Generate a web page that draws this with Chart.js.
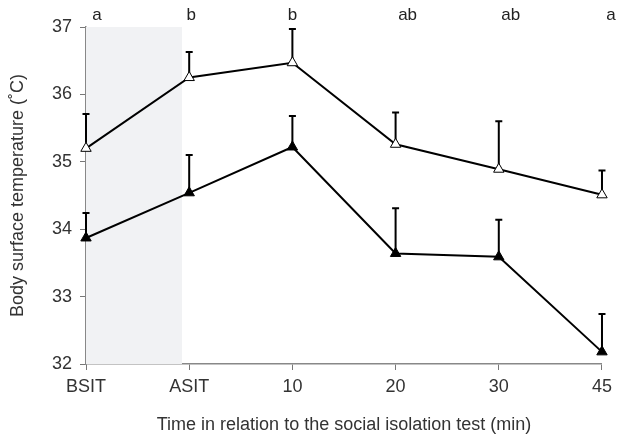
<!DOCTYPE html>
<html>
<head>
<meta charset="utf-8">
<script src="https://cdn.jsdelivr.net/npm/chart.js@4.4.1/dist/chart.umd.min.js"></script>
<style>
html,body{margin:0;padding:0;background:#fff;}
#wrap{width:618px;height:437px;position:relative;}
</style>
</head>
<body>
<div id="wrap"><canvas id="c" width="618" height="437"></canvas></div>
<script>
const categories = ['BSIT', 'ASIT', '10', '20', '30', '45'];
const openMeans  = [35.20, 36.25, 36.47, 35.26, 34.89, 34.51];
const openErrTop = [35.71, 36.63, 36.97, 35.73, 35.60, 34.87];
const filledMeans  = [33.87, 34.54, 35.22, 33.64, 33.59, 32.18];
const filledErrTop = [34.24, 35.10, 35.68, 34.31, 34.14, 32.74];
const sigLetters = ['a', 'b', 'b', 'ab', 'ab', 'a'];
const yTicks = [32, 33, 34, 35, 36, 37];

const shadePlugin = {
  id: 'shade',
  beforeDatasetsDraw(chart) {
    const {ctx, chartArea, scales} = chart;
    const x0 = scales.x.getPixelForValue(0);
    const x1 = scales.x.getPixelForValue(0.93);
    ctx.save();
    ctx.fillStyle = '#f1f2f4';
    ctx.fillRect(x0, chartArea.top, x1 - x0, chartArea.bottom - chartArea.top);
    ctx.restore();
  }
};

const errPlugin = {
  id: 'errbars',
  beforeDatasetsDraw(chart) {
    const {ctx, scales} = chart;
    const tops = [openErrTop, filledErrTop];
    const means = [openMeans, filledMeans];
    ctx.save();
    ctx.strokeStyle = '#000';
    ctx.lineWidth = 2;
    for (let s = 0; s < 2; s++) {
      for (let i = 0; i < categories.length; i++) {
        const x = scales.x.getPixelForValue(i);
        const yM = scales.y.getPixelForValue(means[s][i]);
        const yT = scales.y.getPixelForValue(tops[s][i]);
        ctx.beginPath();
        ctx.moveTo(x, yM);
        ctx.lineTo(x, yT);
        ctx.moveTo(x - 3.5, yT);
        ctx.lineTo(x + 3.5, yT);
        ctx.stroke();
      }
    }
    ctx.restore();
  }
};

const letterPlugin = {
  id: 'letters',
  afterDraw(chart) {
    const {ctx, scales} = chart;
    const offs = [11, 2, 0, 12, 12, 9];
    ctx.save();
    ctx.fillStyle = '#222';
    ctx.font = '17px "Liberation Sans", Arial, sans-serif';
    ctx.textAlign = 'center';
    ctx.textBaseline = 'middle';
    for (let i = 0; i < sigLetters.length; i++) {
      const x = scales.x.getPixelForValue(i) + offs[i];
      ctx.fillText(sigLetters[i], x, 15);
    }
    ctx.restore();
  }
};

const font = {family: '"Liberation Sans", Arial, sans-serif', size: 18};

new Chart(document.getElementById('c'), {
  type: 'line',
  data: {
    labels: categories,
    datasets: [
      {
        data: openMeans,
        borderColor: '#000',
        borderWidth: 2,
        pointStyle: 'triangle',
        pointRadius: 6,
        pointBackgroundColor: '#fff',
        pointBorderColor: '#000',
        pointBorderWidth: 1,
        tension: 0
      },
      {
        data: filledMeans,
        borderColor: '#000',
        borderWidth: 2,
        pointStyle: 'triangle',
        pointRadius: 6,
        pointBackgroundColor: '#000',
        pointBorderColor: '#000',
        pointBorderWidth: 1,
        tension: 0
      }
    ]
  },
  options: {
    responsive: false,
    animation: false,
    devicePixelRatio: 1,
    layout: {padding: {top: 27, right: 16, left: 0, bottom: 0}},
    plugins: {legend: {display: false}, tooltip: {enabled: false}},
    scales: {
      x: {
        type: 'category',
        offset: false,
        grid: {drawOnChartArea: false, drawTicks: true, tickLength: 6, color: '#777'},
        border: {color: '#888', width: 1.5},
        ticks: {color: '#333', font: font, padding: 6, maxRotation: 0, autoSkip: false},
        title: {display: true, text: 'Time in relation to the social isolation test (min)', color: '#333', font: font, padding: {top: 14, bottom: 1}},
        afterFit(s) { s.height = 73; }
      },
      y: {
        min: 32, max: 37,
        afterBuildTicks(s) { s.ticks = yTicks.map(v => ({value: v})); },
        grid: {drawOnChartArea: false, drawTicks: true, tickLength: 6, color: '#777'},
        border: {color: '#888', width: 1.5},
        ticks: {color: '#333', font: font, padding: 8},
        title: {display: true, text: 'Body surface temperature (˚C)', color: '#333', font: font, padding: {top: 7, bottom: 14}},
        afterFit(s) { s.width = 86; }
      }
    }
  },
  plugins: [shadePlugin, errPlugin, letterPlugin]
});
</script>
</body>
</html>
